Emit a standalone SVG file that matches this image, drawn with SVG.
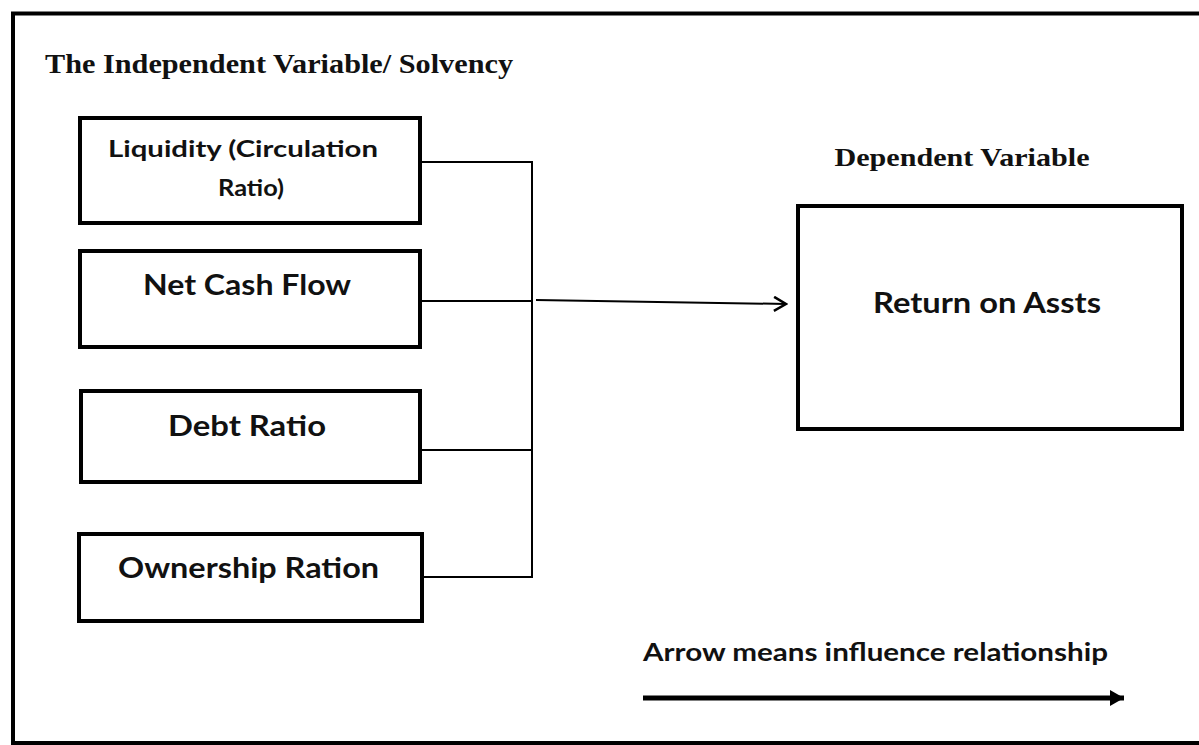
<svg xmlns="http://www.w3.org/2000/svg" width="1199" height="745" viewBox="0 0 1199 745">
<defs>
<style>
.frame{fill:none;stroke:#000;stroke-width:4}
.box{fill:#fff;stroke:#000;stroke-width:4}
.conn{fill:none;stroke:#000;stroke-width:2}
.hdr{font-family:"Liberation Serif","Times New Roman",serif;font-weight:bold;fill:#111}
.lbl{font-family:Lato,"Open Sans","Liberation Sans",sans-serif;font-weight:bold;fill:#111;text-anchor:middle}
</style>
<marker id="open" markerWidth="16" markerHeight="16" refX="14" refY="8" orient="auto" markerUnits="userSpaceOnUse">
<path d="M2,1 L14,8 L2,15" fill="none" stroke="#000" stroke-width="2.5"/>
</marker>
<marker id="solid" markerWidth="22" markerHeight="22" refX="20" refY="11" orient="auto" markerUnits="userSpaceOnUse">
<path d="M6,3 L20,11 L6,19 Z" fill="#000"/>
</marker>
</defs>
<rect width="1199" height="745" fill="#fff"/>
<rect class="frame" x="13" y="13.5" width="1200" height="729.5"/>
<text class="hdr" x="45" y="73" font-size="27" textLength="468" lengthAdjust="spacingAndGlyphs">The Independent Variable/ Solvency</text>
<text class="hdr" x="962" y="166" font-size="25" text-anchor="middle" textLength="255" lengthAdjust="spacingAndGlyphs">Dependent Variable</text>
<g id="liquidity">
<rect class="box" x="80" y="118" width="340" height="105"/>
<text class="lbl" x="243" y="157" font-size="23" textLength="270" lengthAdjust="spacingAndGlyphs">Liquidity (Circulation</text>
<text class="lbl" x="251" y="196" font-size="23" textLength="66" lengthAdjust="spacingAndGlyphs">Ratio)</text>
</g>
<g id="netcash">
<rect class="box" x="80" y="251" width="340" height="96"/>
<text class="lbl" x="247" y="295" font-size="29" textLength="208" lengthAdjust="spacingAndGlyphs">Net Cash Flow</text>
</g>
<g id="debt">
<rect class="box" x="81" y="391" width="339" height="91"/>
<text class="lbl" x="247" y="436" font-size="29" textLength="158" lengthAdjust="spacingAndGlyphs">Debt Ratio</text>
</g>
<g id="ownership">
<rect class="box" x="79" y="534" width="343" height="87"/>
<text class="lbl" x="248.5" y="578" font-size="29" textLength="261" lengthAdjust="spacingAndGlyphs">Ownership Ration</text>
</g>
<g id="roa">
<rect class="box" x="798" y="206" width="384" height="223"/>
<text class="lbl" x="987" y="313" font-size="29" textLength="228" lengthAdjust="spacingAndGlyphs">Return on Assts</text>
</g>
<g id="connectors">
<polyline class="conn" points="420,162 532,162 532,577 422,577"/>
<line class="conn" x1="420" y1="301" x2="532" y2="301"/>
<line class="conn" x1="420" y1="450" x2="532" y2="450"/>
<line class="conn" x1="536" y1="300" x2="786" y2="304" marker-end="url(#open)"/>
</g>
<g id="legend">
<text class="lbl" x="875.5" y="661" font-size="24" textLength="465" lengthAdjust="spacingAndGlyphs">Arrow means influence relationship</text>
<line x1="643" y1="698" x2="1124" y2="698" stroke="#000" stroke-width="5" marker-end="url(#solid)"/>
</g>
</svg>
